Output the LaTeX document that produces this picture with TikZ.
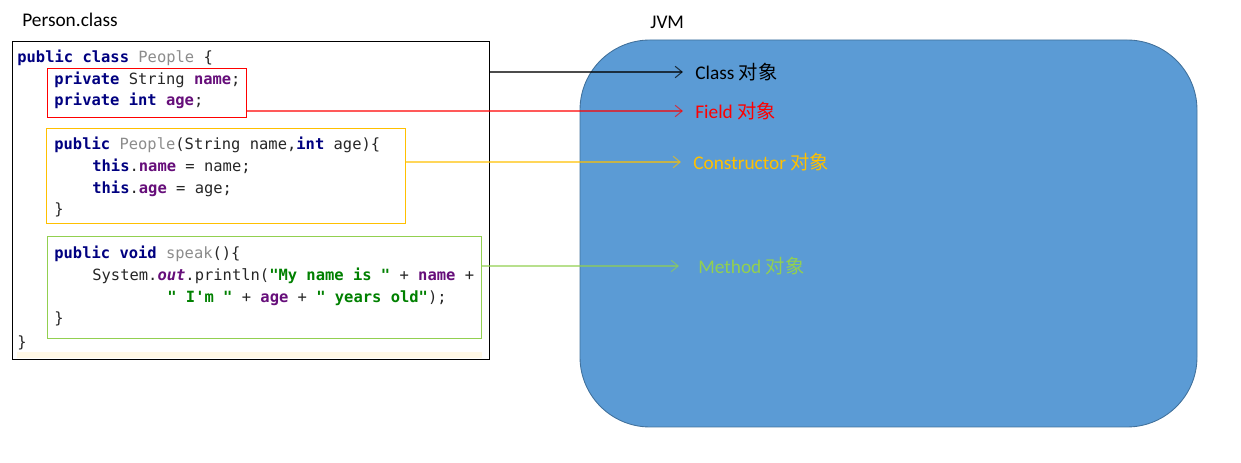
\documentclass[tikz,border=0pt]{standalone}
\usepackage{fontspec}
\setmainfont{Carlito}
\newfontfamily\cjk{Noto Sans CJK SC}
\newfontfamily\codefont{DejaVu Sans Mono}
\usetikzlibrary{arrows.meta}
\usetikzlibrary{fit}
\usetikzlibrary{positioning}

\definecolor{kwblue}{HTML}{000080}
\definecolor{fldpurple}{HTML}{660E7A}
\definecolor{strgreen}{HTML}{008000}
\definecolor{clsgray}{HTML}{8C8C8C}
\definecolor{codetext}{HTML}{262626}
\definecolor{boxred}{HTML}{FF0000}
\definecolor{boxorange}{HTML}{FFC000}
\definecolor{boxgreen}{HTML}{92D050}
\definecolor{jvmfill}{HTML}{5B9BD5}
\definecolor{jvmdraw}{HTML}{41719C}
\definecolor{linehl}{HTML}{FFF8E6}

\newcommand{\kwd}[1]{\textcolor{kwblue}{\bfseries #1}}
\newcommand{\fld}[1]{\textcolor{fldpurple}{\bfseries #1}}
\newcommand{\jstr}[1]{\textcolor{strgreen}{\bfseries #1}}
\newcommand{\cls}[1]{\textcolor{clsgray}{#1}}
\newcommand{\dq}{\textquotedbl}
\newcommand{\sq}{\textquotesingle}
\newcommand{\zh}[1]{{\cjk #1}}

\tikzset{
    codeline/.style={anchor=base west, inner sep=0pt, text=codetext,
        font=\codefont\fontsize{8.8}{10}\selectfont},
    frame/.style={fit=#1, inner sep=0pt, line width=0.5pt},
    objlbl/.style={anchor=west, inner sep=0pt, inner xsep=2.4mm,
        font=\fontsize{11}{13}\selectfont},
    objarrow/.style={line width=0.6pt, -{Straight Barb[length=4pt,width=6.5pt]}}
}

\begin{document}
\begin{tikzpicture}[x=0.2mm,y=-0.2mm]
                \useasboundingbox (0,0) rectangle (1241,463);

                % titles
                \node[anchor=west, inner sep=0pt, font=\fontsize{11}{13}\selectfont] (classfile) at (22,20) {Person.class};
                \node[anchor=west, inner sep=0pt, font=\fontsize{11}{13}\selectfont] (jvmtitle) at (650,22) {JVM};

                % JVM area
                \coordinate (ja) at (580,40);
                \coordinate (jb) at (1197,427);
                \node[frame={(ja)(jb)}, draw=jvmdraw, fill=jvmfill, rounded corners=14mm] (jvm) {};

                % source code
                \coordinate (ca) at (12,41);
                \coordinate (cb) at (489,359);
                \node[frame={(ca)(cb)}, draw=black] (codebox) {};
                \fill[linehl] (17,352) rectangle (482,358);

                \node[codeline] (l1) at (17,63) {\kwd{public class} \cls{People} \{};
                \node[codeline] (l2) at (54,85) {\kwd{private} String \fld{name};};
                \node[codeline] (l3) at (54,106) {\kwd{private int} \fld{age};};
                \node[codeline] (l4) at (54,150) {\kwd{public} \cls{People}(String name,\kwd{int} age)\{};
                \node[codeline] (l5) at (92,172) {\kwd{this}.\fld{name} = name;};
                \node[codeline] (l6) at (92,194) {\kwd{this}.\fld{age} = age;};
                \node[codeline] (l7) at (54,215) {\}};
                \node[codeline] (l8) at (54,259) {\kwd{public void} \cls{speak}()\{};
                \node[codeline] (l9) at (92,281) {System.\textcolor{fldpurple}{\bfseries\itshape out}.println(\jstr{\dq My name is \dq} + \fld{name} +};
                \node[codeline] (l10) at (167,303) {\jstr{\dq{} I\sq m \dq} + \fld{age} + \jstr{\dq{} years old\dq});};
                \node[codeline] (l11) at (54,324) {\}};
                \node[codeline] (l12) at (17,348) {\}};

                % marked parts
                \coordinate (fa) at (47,68);
                \coordinate (fb) at (246,117);
                \node[frame={(fa)(fb)}, draw=boxred] (fieldbox) {};
                \coordinate (ka) at (46,128);
                \coordinate (kb) at (405,223);
                \node[frame={(ka)(kb)}, draw=boxorange] (ctorbox) {};
                \coordinate (ma) at (47,236);
                \coordinate (mb) at (481,338);
                \node[frame={(ma)(mb)}, draw=boxgreen] (methodbox) {};

                % objects in the JVM
                \node[objlbl] (classobj) at (683,72) {Class \zh{对象}};
                \node[objlbl, text=boxred] (fieldobj) at (683,111) {Field \zh{对象}};
                \node[objlbl, text=boxorange] (ctorobj) at (681,162) {Constructor \zh{对象}};
                \node[objlbl, text=boxgreen, inner xsep=3.8mm] (methodobj) at (679,266) {Method \zh{对象}};

                \draw[objarrow, black, opacity=0.7] (codebox.east |- classobj) -- (classobj.west);
                \draw[objarrow, boxred, opacity=0.65] (fieldbox.east |- fieldobj) -- (fieldobj.west);
                \draw[objarrow, boxorange, opacity=0.65] (ctorbox.east |- ctorobj) -- (ctorobj.west);
                \draw[objarrow, boxgreen, opacity=0.65] (methodbox.east |- methodobj) -- (methodobj.west);
            \end{tikzpicture}
\end{document}
